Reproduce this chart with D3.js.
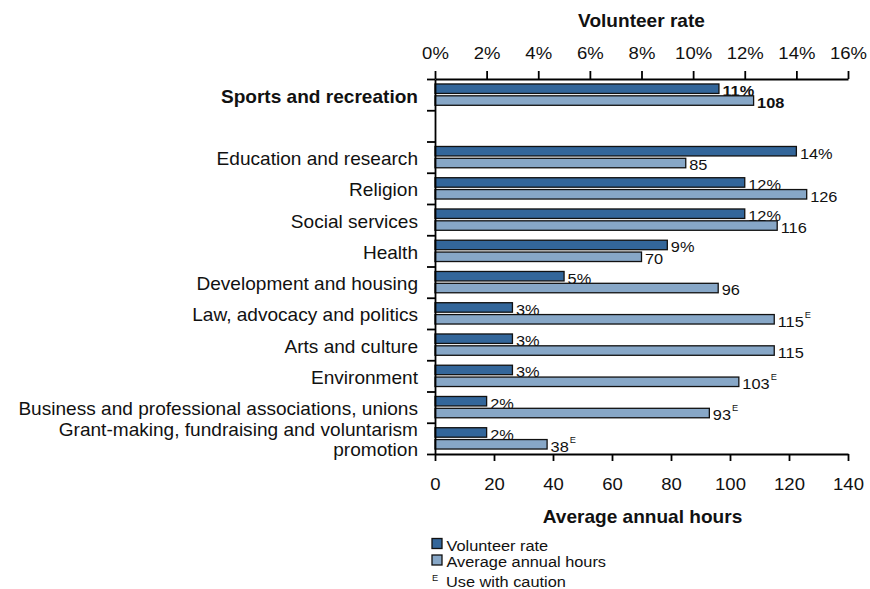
<!DOCTYPE html>
<html>
<head>
<meta charset="utf-8">
<script src="https://cdn.jsdelivr.net/npm/d3@7/dist/d3.min.js"></script>
<style>
  html, body { margin: 0; padding: 0; background: #fff; }
  svg { display: block; font-family: "Liberation Sans", Arial, Helvetica, sans-serif; }
</style>
</head>
<body>
<svg id="chart" width="870" height="589"></svg>
<script>
// ---------- data ----------
const categories = [
  "Sports and recreation",
  "",
  "Education and research",
  "Religion",
  "Social services",
  "Health",
  "Development and housing",
  "Law, advocacy and politics",
  "Arts and culture",
  "Environment",
  "Business and professional associations, unions",
  "Grant-making, fundraising and voluntarism\npromotion"
];
const volunteerRate = [11, null, 14, 12, 12, 9, 5, 3, 3, 3, 2, 2];
const annualHours   = [108, null, 85, 126, 116, 70, 96, 115, 115, 103, 93, 38];
const hoursCaution  = [false, false, false, false, false, false, false, true, false, true, true, true];
const rateTicks  = [0, 2, 4, 6, 8, 10, 12, 14, 16];
const hoursTicks = [0, 20, 40, 60, 80, 100, 120, 140];
const seriesNames = ["Volunteer rate", "Average annual hours"];
const cautionNote = "Use with caution";

// ---------- layout ----------
const SX = 1.09;               // horizontal text stretch of the reference
const plotL = 435, plotR = 848, plotT = 79, plotB = 454;
const darkFill = "#33669a", lightFill = "#87a7c7", edge = "#111";

const svg = d3.select("#chart");

const xRate  = d3.scaleLinear().domain([0, 16]).range([plotL, plotR]);
const xHours = d3.scaleLinear().domain([0, 140]).range([plotL, plotR]);
const y = d3.scaleBand().domain(d3.range(categories.length)).range([plotT, plotB]);
const ySub = d3.scaleBand().domain(["rate", "hours"]).range([0, y.bandwidth()])
  .paddingInner(0.2).paddingOuter(0.42);

function stretchText(g, x, yv, str, opts) {
  return g.append("text")
    .attr("transform", `translate(${x},${yv}) scale(${SX},1)`)
    .attr("font-size", opts.size)
    .attr("font-weight", opts.bold ? "bold" : "normal")
    .attr("text-anchor", opts.anchor || "start")
    .attr("fill", "#111")
    .text(str);
}

const rows = categories.map((c, i) => ({ i, c, rate: volunteerRate[i], hours: annualHours[i], caution: hoursCaution[i] }))
  .filter(d => d.rate !== null);
const bw = ySub.bandwidth();

// ---------- volunteer-rate bars and labels (drawn first: hours bars may cover labels) ----------
const gRate = svg.append("g");
gRate.selectAll("rect").data(rows).join("rect")
  .attr("x", xRate(0))
  .attr("y", d => y(d.i) + ySub("rate"))
  .attr("width", d => xRate(d.rate) - xRate(0))
  .attr("height", bw)
  .attr("fill", darkFill).attr("stroke", edge).attr("stroke-width", 1.3);
rows.forEach(d => {
  stretchText(gRate, xRate(d.rate) + 3.5, y(d.i) + ySub("rate") + bw + 2.8, d.rate + "%",
    { size: 15, bold: d.i === 0 });
});

// ---------- hours bars and labels ----------
const gHours = svg.append("g");
gHours.selectAll("rect").data(rows).join("rect")
  .attr("x", xHours(0))
  .attr("y", d => y(d.i) + ySub("hours"))
  .attr("width", d => xHours(d.hours) - xHours(0))
  .attr("height", bw)
  .attr("fill", lightFill).attr("stroke", edge).attr("stroke-width", 1.3);
rows.forEach(d => {
  const t = stretchText(gHours, xHours(d.hours) + 3.5, y(d.i) + ySub("hours") + bw + 2.5, d.hours,
    { size: 15, bold: d.i === 0 });
  if (d.caution) {
    t.append("tspan").attr("font-size", 8.5).attr("dx", 1).attr("dy", -9).text("E");
  }
});

// ---------- axes ----------
function styleAxis(g) {
  g.attr("font-family", null);
  g.select(".domain").attr("stroke", "#000").attr("stroke-width", 1.8);
  g.selectAll(".tick line").attr("stroke", "#000").attr("stroke-width", 1.8);
}

const axTop = svg.append("g").attr("transform", `translate(0,${plotT})`)
  .call(d3.axisTop(xRate).tickValues(rateTicks).tickFormat(d => d + "%").tickSize(8).tickSizeOuter(0));
styleAxis(axTop);
axTop.selectAll(".tick text")
  .attr("y", -20.3).attr("dy", 0)
  .attr("transform", `scale(${SX},1)`)
  .attr("font-size", 17).attr("fill", "#111");

const axBot = svg.append("g").attr("transform", `translate(0,${plotB})`)
  .call(d3.axisBottom(xHours).tickValues(hoursTicks).tickSize(7).tickSizeOuter(0));
styleAxis(axBot);
axBot.selectAll(".tick text")
  .attr("y", 36.5).attr("dy", 0)
  .attr("transform", `scale(${SX},1)`)
  .attr("font-size", 17).attr("fill", "#111");

const yEdges = d3.scaleLinear().domain([0, categories.length]).range([plotT, plotB]);
const axLeft = svg.append("g").attr("transform", `translate(${plotL},0)`)
  .call(d3.axisLeft(yEdges).tickValues(d3.range(categories.length + 1)).tickFormat("").tickSize(8).tickSizeOuter(0));
styleAxis(axLeft);

// ---------- category labels ----------
const gCat = svg.append("g");
categories.forEach((c, i) => {
  if (!c) return;
  const lines = c.split("\n");
  const cy = y(i) + y.bandwidth() / 2;
  const lh = 19.5;
  const firstBase = cy + 8 - (lines.length - 1) * lh / 2 - (lines.length > 1 ? 0.5 : 0);
  lines.forEach((ln, k) => {
    stretchText(gCat, 418, firstBase + k * lh, ln, { size: 17.5, bold: i === 0, anchor: "end" });
  });
});

// ---------- axis titles ----------
stretchText(svg, (plotL + plotR) / 2, 27.3, seriesNames[0], { size: 17.5, bold: true, anchor: "middle" });
stretchText(svg, (plotL + plotR) / 2 + 1, 522.5, seriesNames[1], { size: 17.5, bold: true, anchor: "middle" });

// ---------- legend ----------
const gLeg = svg.append("g");
[darkFill, lightFill].forEach((f, k) => {
  gLeg.append("rect")
    .attr("x", 432).attr("y", 538.5 + k * 16.5)
    .attr("width", 10).attr("height", 10)
    .attr("fill", f).attr("stroke", edge).attr("stroke-width", 1.3);
  stretchText(gLeg, 446.5, 550.5 + k * 16, seriesNames[k], { size: 15 });
});
stretchText(gLeg, 432, 580.5, "E", { size: 8.5 });
stretchText(gLeg, 446, 586.5, cautionNote, { size: 15 });
</script>
</body>
</html>
